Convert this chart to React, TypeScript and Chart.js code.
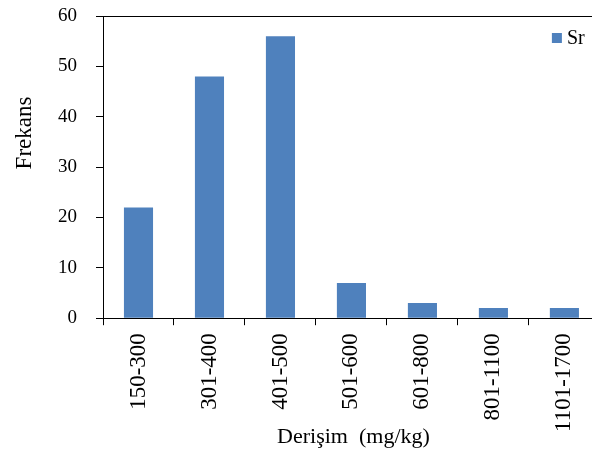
import React, { useEffect, useRef } from "react";
import { Chart, registerables } from "chart.js";

Chart.register(...registerables);

const CATEGORIES = ["150-300", "301-400", "401-500", "501-600", "601-800", "801-1100", "1101-1700"];
const SR_VALUES = [22, 48, 56, 7, 3, 2, 2];
const SERIES_NAME = "Sr";
const Y_TITLE = "Frekans";
const X_TITLE = "Derişim  (mg/kg)";
const Y_MIN = 0;
const Y_MAX = 60;
const Y_STEP = 10;

const BAR_COLOR = "#4F81BD";
const FONT = '"Liberation Serif", "Times New Roman", serif';

const decor = {
  id: "decor",
  afterDraw(chart: any) {
    const { ctx, chartArea: a } = chart;
    ctx.save();
    ctx.strokeStyle = "#000";
    ctx.lineWidth = 1;
    ctx.beginPath();
    ctx.moveTo(a.left, a.top + 0.5);
    ctx.lineTo(a.right, a.top + 0.5);
    ctx.stroke();

    // legend
    ctx.fillStyle = BAR_COLOR;
    ctx.fillRect(a.right - 48, a.top + 17, 10, 10);
    ctx.fillStyle = "#000";
    ctx.font = `20px ${FONT}`;
    ctx.textBaseline = "middle";
    ctx.textAlign = "left";
    ctx.fillText(SERIES_NAME, a.right - 33, a.top + 23);

    // x title
    ctx.font = `22px ${FONT}`;
    ctx.textAlign = "center";
    ctx.fillText(X_TITLE, (a.left + a.right) / 2 + 2, a.bottom + 119);

    // y title
    ctx.font = `23px ${FONT}`;
    ctx.translate(a.left - 78, a.top + 117);
    ctx.rotate(-Math.PI / 2);
    ctx.fillText(Y_TITLE, 0, 0);
    ctx.restore();
  },
};

export default function App() {
  const ref = useRef<HTMLCanvasElement | null>(null);
  useEffect(() => {
    if (!ref.current) return;
    const chart = new Chart(ref.current, {
      type: "bar",
      data: {
        labels: CATEGORIES,
        datasets: [
          {
            label: SERIES_NAME,
            data: SR_VALUES,
            backgroundColor: BAR_COLOR,
            borderWidth: 0,
            barPercentage: 0.41,
            categoryPercentage: 1,
          },
        ],
      },
      options: {
        responsive: false,
        animation: false,
        layout: { padding: { left: 39, top: 16, right: 0, bottom: 21 } },
        plugins: {
          legend: { display: false },
          tooltip: { enabled: false },
        },
        scales: {
          x: {
            grid: {
              display: true,
              drawOnChartArea: false,
              drawTicks: true,
              tickLength: 7,
              color: "#000",
              offset: true,
            },
            border: { display: true, color: "#000", width: 1 },
            ticks: {
              minRotation: 90,
              maxRotation: 90,
              padding: 8,
              color: "#000",
              font: { family: FONT, size: 23 },
              autoSkip: false,
            },
          },
          y: {
            min: Y_MIN,
            max: Y_MAX,
            afterFit: (scale: any) => {
              scale.paddingTop = 0;
              scale.paddingBottom = 0;
            },
            grid: {
              display: true,
              drawOnChartArea: false,
              drawTicks: true,
              tickLength: 7,
              color: "#000",
            },
            border: { display: true, color: "#000", width: 1 },
            ticks: {
              stepSize: Y_STEP,
              padding: 19,
              color: "#000",
              font: { family: FONT, size: 19 },
            },
          },
        },
      },
      plugins: [decor],
    });
    return () => chart.destroy();
  }, []);

  return (
    <div
      style={{
        position: "fixed",
        left: 0,
        top: 0,
        width: 592,
        height: 461,
        overflow: "hidden",
        background: "#fff",
      }}
    >
      <canvas ref={ref} width={600} height={461} style={{ display: "block" }} />
    </div>
  );
}
